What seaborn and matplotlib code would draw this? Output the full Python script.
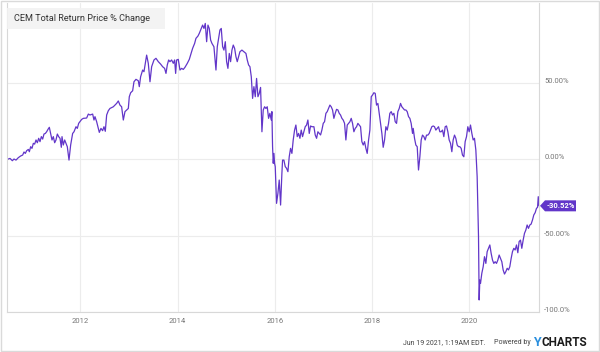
import matplotlib
matplotlib.use("Agg")
import matplotlib.pyplot as plt
import pandas as pd
import seaborn as sns
from matplotlib.patches import Rectangle, Polygon

# values (decimal year, % change)
dates = [
    2010.497, 2010.552, 2010.600, 2010.634, 2010.675, 2010.723, 2010.771, 2010.812, 2010.840, 2010.867,
    2010.895, 2010.929, 2010.950, 2010.977, 2011.004, 2011.032, 2011.059, 2011.087, 2011.114, 2011.142,
    2011.169, 2011.197, 2011.224, 2011.251, 2011.279, 2011.306, 2011.334, 2011.361, 2011.388, 2011.416,
    2011.443, 2011.471, 2011.498, 2011.526, 2011.553, 2011.581, 2011.608, 2011.622, 2011.649, 2011.677,
    2011.704, 2011.731, 2011.766, 2011.800, 2011.841, 2011.869, 2011.910, 2011.937, 2011.965, 2011.992,
    2012.026, 2012.061, 2012.129, 2012.164, 2012.198, 2012.253, 2012.280, 2012.301, 2012.335, 2012.390,
    2012.424, 2012.458, 2012.486, 2012.513, 2012.541, 2012.575, 2012.609, 2012.678, 2012.746, 2012.781,
    2012.815, 2012.849, 2012.884, 2012.918, 2012.987, 2013.007, 2013.035, 2013.076,
    2013.103, 2013.144, 2013.192, 2013.213, 2013.240, 2013.282, 2013.309, 2013.337, 2013.364, 2013.398,
    2013.433, 2013.467, 2013.515, 2013.556, 2013.604, 2013.652, 2013.693, 2013.734, 2013.762, 2013.789,
    2013.817, 2013.844, 2013.878, 2013.913, 2013.940, 2013.961, 2013.981, 2014.015, 2014.050, 2014.084,
    2014.118, 2014.153, 2014.201, 2014.242, 2014.269, 2014.310, 2014.352, 2014.379, 2014.420, 2014.448,
    2014.475, 2014.516, 2014.544, 2014.571, 2014.599, 2014.626, 2014.653, 2014.681, 2014.708, 2014.749,
    2014.791, 2014.818, 2014.845, 2014.873, 2014.900, 2014.928, 2014.955, 2014.983, 2015.010, 2015.037,
    2015.065, 2015.092, 2015.120, 2015.147, 2015.175, 2015.202, 2015.229, 2015.257, 2015.284, 2015.325,
    2015.367, 2015.408, 2015.435, 2015.463, 2015.490, 2015.518, 2015.545, 2015.572, 2015.600, 2015.627,
    2015.655, 2015.682,
    2015.709, 2015.737, 2015.764, 2015.792, 2015.819, 2015.846, 2015.874, 2015.901, 2015.929, 2015.942,
    2015.956, 2015.970, 2015.984, 2015.997, 2016.011, 2016.038, 2016.066, 2016.093, 2016.121, 2016.148,
    2016.162, 2016.189, 2016.217, 2016.244, 2016.272, 2016.299, 2016.326, 2016.354, 2016.381, 2016.409,
    2016.436, 2016.464, 2016.491, 2016.519, 2016.546, 2016.573, 2016.601, 2016.628, 2016.656, 2016.683,
    2016.711, 2016.738, 2016.765, 2016.807, 2016.834, 2016.862, 2016.889, 2016.917, 2016.944, 2016.971,
    2016.999, 2017.026, 2017.054, 2017.081, 2017.109, 2017.136, 2017.163, 2017.191, 2017.218, 2017.246,
    2017.273, 2017.301, 2017.328, 2017.355, 2017.383, 2017.410, 2017.438, 2017.465, 2017.493, 2017.520,
    2017.548, 2017.575, 2017.602, 2017.630, 2017.657, 2017.685, 2017.712, 2017.740, 2017.767, 2017.794,
    2017.822, 2017.849, 2017.877, 2017.904, 2017.932, 2017.959, 2017.987, 2018.014, 2018.041, 2018.069,
    2018.096, 2018.124, 2018.151, 2018.178, 2018.206, 2018.233, 2018.261, 2018.288, 2018.316, 2018.343,
    2018.370, 2018.398, 2018.425, 2018.453, 2018.480, 2018.508, 2018.535, 2018.563, 2018.590, 2018.617,
    2018.645, 2018.672, 2018.700, 2018.727, 2018.755, 2018.782, 2018.809, 2018.837, 2018.851, 2018.878,
    2018.905, 2018.933, 2018.960,
    2018.988, 2019.015, 2019.042, 2019.070, 2019.097, 2019.125, 2019.152, 2019.180, 2019.207, 2019.234,
    2019.262, 2019.289, 2019.317, 2019.344, 2019.372, 2019.399, 2019.426, 2019.454, 2019.481, 2019.509,
    2019.536, 2019.564, 2019.591, 2019.619, 2019.646, 2019.673, 2019.701, 2019.728, 2019.756, 2019.783,
    2019.811, 2019.838, 2019.865, 2019.893, 2019.920, 2019.948, 2019.975, 2020.003, 2020.030, 2020.058,
    2020.085, 2020.112, 2020.140, 2020.167, 2020.195, 2020.208, 2020.222, 2020.236, 2020.263, 2020.291,
    2020.318, 2020.346, 2020.373, 2020.400, 2020.428, 2020.455, 2020.483, 2020.510, 2020.538, 2020.565,
    2020.593, 2020.620, 2020.647, 2020.675, 2020.702, 2020.730, 2020.757, 2020.785, 2020.812, 2020.839,
    2020.867, 2020.894, 2020.922, 2020.949, 2020.977, 2021.004, 2021.031, 2021.059, 2021.086, 2021.114,
    2021.141, 2021.169, 2021.196, 2021.223, 2021.251, 2021.278, 2021.306, 2021.333, 2021.361, 2021.388,
    2021.410, 2021.425, 2021.440,
]

pct_change = [
    0.0, 0.6, -0.9, 0.2, -0.5, 1.1, 2.2, 2.8, 4.8, 3.9,
    5.7, 6.5, 5.0, 8.3, 7.2, 10.5, 10.0, 12.7, 10.9, 13.8,
    11.6, 14.9, 13.3, 16.6, 17.0, 18.1, 19.7, 21.0, 17.0, 12.7,
    14.9, 10.9, 12.7, 16.6, 14.9, 13.8, 7.9, 14.9, 9.4, 12.7,
    10.5, 8.3, -0.5, 9.4, 17.0, 18.1, 21.4, 20.3, 23.6, 24.7,
    26.2, 26.9, 27.1, 29.7, 29.1, 29.7, 25.8, 28.0, 24.7, 17.7,
    20.3, 18.8, 21.4, 18.4, 29.1, 31.9, 33.4, 34.5, 36.7, 38.3,
    35.6, 34.5, 25.8, 31.3, 33.4, 41.1, 43.7, 45.0,
    50.9, 52.5, 51.6, 47.7, 54.2, 58.6, 57.5, 63.0, 68.4, 63.0,
    50.9, 60.8, 65.2, 66.3, 64.1, 62.5, 60.8, 59.7, 56.4, 61.9,
    65.2, 64.1, 65.2, 63.0, 65.2, 56.4, 65.2, 65.6, 58.6, 59.7,
    59.0, 60.4, 63.0, 65.6, 68.4, 72.8, 76.1, 79.4, 80.9, 82.7,
    84.9, 88.1, 85.9, 89.2, 77.2, 88.1, 85.9, 78.3, 76.1, 73.9,
    58.6, 73.9, 79.4, 84.9, 85.9, 73.9, 71.7, 77.2, 64.1, 59.7,
    69.5, 64.1, 71.7, 75.0, 72.8, 67.4, 64.1, 67.4, 70.6, 71.7,
    70.6, 69.5, 65.2, 61.9, 60.8, 54.2, 40.0, 47.7, 41.1, 53.1,
    41.1, 43.3,
    47.2, 18.1, 32.4, 34.5, 33.4, 34.5, 26.9, 30.2, 25.8, 31.3,
    8.3, -2.6, 3.9, -2.6, -4.8, -28.9, -22.3, -13.6, -30.0, -9.2,
    -0.5, -0.5, -4.8, -5.9, -8.1, 1.7, 7.2, 3.9, 12.7, 19.2,
    22.5, 14.9, 17.0, 13.8, 19.2, 14.9, 18.1, 21.4, 22.5, 25.8,
    17.0, 21.9, 21.4, 21.4, 16.0, 13.8, 18.1, 17.0, 16.0, 19.2,
    23.6, 24.7, 30.2, 31.3, 33.4, 35.6, 34.5, 32.4, 26.9, 30.2,
    32.8, 32.4, 30.2, 29.1, 26.9, 25.8, 23.6, 12.7, 22.5, 23.6,
    24.7, 26.9, 23.6, 18.1, 20.3, 21.4, 23.6, 22.5, 21.4, 11.6,
    9.4, 11.6, 7.2, 3.9, 12.7, 19.2, 41.1, 42.2, 43.7, 43.3,
    35.6, 36.7, 30.2, 23.6, 17.0, 7.9, 12.7, 21.4, 19.2, 23.6,
    30.2, 31.3, 29.1, 30.2, 24.7, 23.6, 31.3, 33.4, 36.7, 34.5,
    33.4, 32.4, 32.4, 31.3, 28.0, 26.9, 23.6, 17.0, 20.3, 13.8,
    9.4, 8.3, -7.0,
    1.7, 12.7, 15.9, 14.9, 12.7, 15.9, 15.9, 17.0, 19.2, 21.4,
    21.9, 21.4, 19.2, 20.3, 21.4, 18.1, 18.1, 19.2, 14.9, 21.4,
    21.9, 18.1, 12.7, 10.5, 5.0, 12.7, 15.9, 13.8, 9.4, 8.3,
    8.3, 7.2, 2.8, 1.7, 11.6, 14.9, 21.4, 18.1, 22.5, 17.0,
    12.7, 13.8, 6.1, -11.4, -50.8, -92.3, -79.2, -81.4, -74.8, -70.5,
    -63.9, -68.3, -60.6, -58.4, -56.2, -61.7, -66.1, -68.3, -67.2, -68.3,
    -66.1, -62.8, -65.0, -67.2, -72.6, -75.3, -73.7, -71.5, -72.6, -70.5,
    -65.0, -60.6, -58.4, -59.5, -56.2, -61.3, -54.0, -53.0, -58.4, -53.0,
    -48.6, -46.4, -43.1, -45.3, -43.1, -42.5, -39.8, -36.5, -35.0, -32.2,
    -31.5, -24.5, -30.52,
]

year_ticks = [2012, 2014, 2016, 2018, 2020]
pct_ticks = [50, 0, -50, -100]
pct_labels = ["50.00%", "0.00%", "-50.00%", "-100.0%"]
last_label = "-30.52%"
title = "CEM Total Return Price % Change"

sns.set_style("white")
plt.rcParams["font.family"] = ["Roboto", "DejaVu Sans"]

purple = "#6236c9"
grid_c = "#ececec"
df = pd.DataFrame({"year": dates, "pct": pct_change})

W, H = 600, 352
fig = plt.figure(figsize=(6, 3.52), dpi=100)
ax = fig.add_axes([7.3 / W, 1 - 311.7 / H, (539 - 7.3) / W, (311.7 - 3) / H])

sns.lineplot(data=df, x="year", y="pct", color=purple, linewidth=0.9, ax=ax)

ax.set_xlim(2010.496, 2021.44)
ax.set_ylim(-100, 102.6)
ax.set_xlabel("")
ax.set_ylabel("")

ax.set_xticks(year_ticks)
ax.set_xticklabels([str(y) for y in year_ticks])
ax.yaxis.tick_right()
ax.set_yticks(pct_ticks)
ax.set_yticklabels(pct_labels, va="baseline")
ax.tick_params(axis="both", length=0, labelsize=5.5, labelcolor="#777777")
ax.tick_params(axis="y", pad=3.8)
ax.tick_params(axis="x", pad=4.2)
ax.grid(True, color=grid_c, linewidth=0.8)
ax.set_axisbelow(True)

for s in ["left", "bottom", "right"]:
    ax.spines[s].set_color("#d8d8d8")
    ax.spines[s].set_linewidth(0.8)
ax.spines["top"].set_visible(False)

# title box
fig.add_artist(Rectangle((7.3 / W, 1 - 28.5 / H), 158 / W, 20.5 / H, transform=fig.transFigure,
                         fc="#f2f2f2", ec="none", alpha=0.85, zorder=3))
fig.text(14 / W, 1 - 18.5 / H, title, fontsize=6.6, color="#333333", va="center", ha="left", zorder=4)

# last value tag
fig.canvas.draw()
tx, ty = ax.transData.transform((ax.get_xlim()[1], pct_change[-1]))
tag = Polygon([(tx + 1, ty), (tx + 6, ty + 5.5), (tx + 37, ty + 5.5), (tx + 37, ty - 5.5), (tx + 6, ty - 5.5)],
              closed=True, fc=purple, ec="none", transform=None, zorder=5)
fig.add_artist(tag)
fig.text((tx + 21.5) / W, ty / H, last_label, fontsize=5.5, color="white", fontweight="bold",
         ha="center", va="center", zorder=6)

# outer frame
fig.add_artist(Rectangle((1 / W, 1 / H), (W - 2) / W, (H - 2) / H, transform=fig.transFigure,
                         fill=False, ec="#dadada", lw=1.0))

# footer
fig.text(486 / W, 1 - 342.5 / H, "Jun 19 2021, 1:19AM EDT.", fontsize=5.0, color="#444444",
         ha="right", va="center")
fig.text(531 / W, 1 - 342.5 / H, "Powered by", fontsize=5.0, color="#444444", ha="right", va="center")
fig.text(533 / W, 1 - 342 / H, "Y", fontsize=9, color="#2a8fde", fontweight="bold", ha="left", va="center")
fig.text(542 / W, 1 - 342 / H, "CHARTS", fontsize=8.5, color="#1a1a1a", fontweight="bold",
         ha="left", va="center")

fig.savefig("out.png", dpi=100)
